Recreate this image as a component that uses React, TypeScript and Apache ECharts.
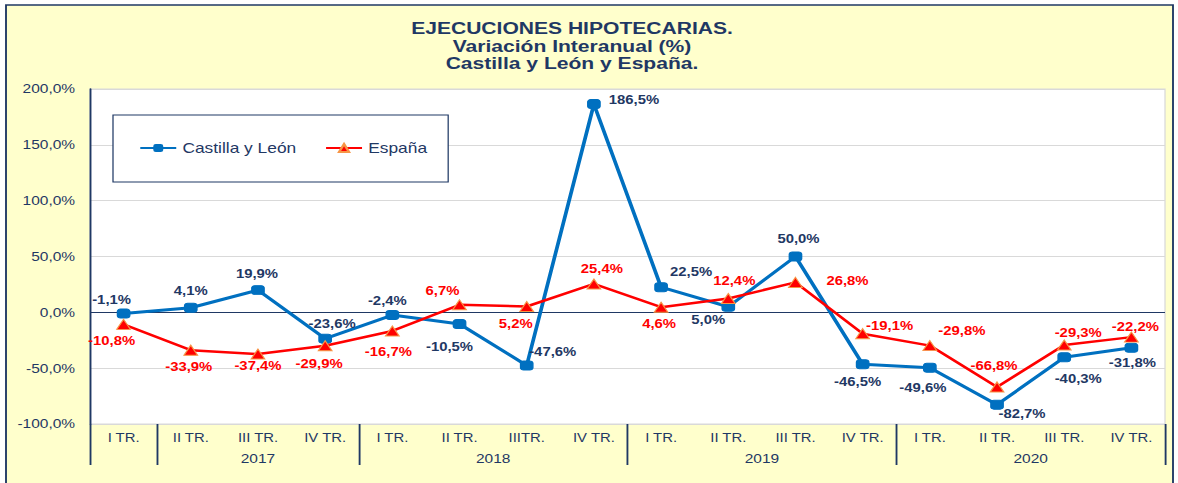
import React, { useEffect, useRef } from "react";
import * as echarts from "echarts";

// ---- Data ----
const categories = [
  "I TR.", "II TR.", "III TR.", "IV TR.",
  "I TR.", "II TR.", "IIITR.", "IV TR.",
  "I TR.", "II TR.", "III TR.", "IV TR.",
  "I TR.", "II TR.", "III TR.", "IV TR.",
];
const yearNames = ["", "2017", "2018", "2019", "2020"];
const yearStarts = [0, 1, 4, 8, 12];

const castillaLeon = [-1.1, 4.1, 19.9, -23.6, -2.4, -10.5, -47.6, 186.5, 22.5, 5.0, 50.0, -46.5, -49.6, -82.7, -40.3, -31.8];
const espana = [-10.8, -33.9, -37.4, -29.9, -16.7, 6.7, 5.2, 25.4, 4.6, 12.4, 26.8, -19.1, -29.8, -66.8, -29.3, -22.2];

const yMin = -100;
const yMax = 200;
const yInterval = 50;

// ---- Label placement (pixels, relative to the point) ----
const cylLabelOffsets = [
  [-12, -14], [0, -17], [-1, -16], [7, -15], [-5, -14], [-10, 23], [26, -13], [40, -4],
  [30, -15], [-20, 13], [3, -17], [-5, 18], [-7, 20], [25, 9], [14, 22], [1, 15],
];
const espLabelOffsets = [
  [-12, 17], [-2, 17], [0, 12], [-6, 18], [-4, 21], [-17, -14], [-11, 17], [8, -15],
  [-2, 17], [6, -17], [52, -1], [27, -8], [32, -15], [-3, -21], [14, -12], [4, -10],
];

const SX = 1.24; // horizontal stretch of the original picture
const W = 1178;
const H = 483;
const W0 = W / SX;
const NAVY = "#1F3864";
const BLUE = "#0070C0";
const RED = "#FF0000";
const FONT = "'Liberation Sans', Arial, sans-serif";

const fmt = (v: number) => v.toFixed(1).replace(".", ",") + "%";

export default function App() {
  const ref = useRef<HTMLDivElement>(null);

  useEffect(() => {
    if (!ref.current) return;
    const chart = echarts.init(ref.current, undefined, { renderer: "svg" });

    const n = categories.length;
    const boundaries = [...yearStarts, n];
    const centers = yearStarts.map((s, i) => (s + boundaries[i + 1]) / 2);
    const centerName = (v: number) => {
      const idx = centers.findIndex((c) => Math.abs(c - v) < 1e-6);
      return idx >= 0 ? yearNames[idx] : "";
    };

    const gridColors = [] as string[];
    for (let v = yMin; v <= yMax; v += yInterval) gridColors.push(v === 0 ? NAVY : "#D9D9D9");

    const titleStyle = (text: string) => ({
      text,
      textAlign: "center",
      textVerticalAlign: "middle",
      font: `bold 17px ${FONT}`,
      fill: NAVY,
    });

    const option: any = {
      animation: false,
      textStyle: { fontFamily: FONT },
      graphic: [
        {
          type: "rect",
          z: -100,
          shape: { x: 6 / SX, y: 5, width: (1173 - 6) / SX, height: 520 },
          style: { fill: "#FFFFCC", stroke: NAVY, lineWidth: 1.5 },
          silent: true,
        },
        { type: "text", x: 572 / SX, y: 28, style: titleStyle("EJECUCIONES HIPOTECARIAS.") },
        { type: "text", x: 572 / SX, y: 46, style: titleStyle("Variación Interanual (%)") },
        { type: "text", x: 572 / SX, y: 63, style: titleStyle("Castilla y León y España.") },
      ],
      legend: {
        data: ["Castilla y León", "España"],
        left: 113 / SX,
        top: 115,
        orient: "horizontal",
        padding: [26, 17, 27, 21],
        itemWidth: 29,
        itemHeight: 10,
        itemGap: 23,
        backgroundColor: "#FFFFFF",
        borderColor: NAVY,
        borderWidth: 1,
        textStyle: { fontSize: 14, color: NAVY, fontFamily: FONT },
      },
      grid: {
        left: 90 / SX,
        right: W0 - 1165 / SX,
        top: 89,
        bottom: H - 424,
        show: true,
        backgroundColor: "#FFFFFF",
        borderColor: "#D9D9D9",
        borderWidth: 1,
      },
      xAxis: [
        {
          type: "category",
          data: categories,
          boundaryGap: true,
          axisLine: { show: false },
          axisTick: { show: false },
          splitLine: { show: false },
          axisLabel: { interval: 0, color: NAVY, fontSize: 12, margin: 8, fontFamily: FONT },
        },
        {
          type: "value",
          position: "bottom",
          min: 0,
          max: n,
          axisLine: { show: false },
          splitLine: { show: false },
          axisTick: { show: true, customValues: boundaries, length: 41, lineStyle: { color: NAVY, width: 1.5 } },
          axisLabel: { customValues: centers, formatter: (v: number) => centerName(v), margin: 28, color: NAVY, fontSize: 12.5, fontFamily: FONT },
        },
      ],
      yAxis: {
        type: "value",
        min: yMin,
        max: yMax,
        interval: yInterval,
        axisLine: { show: true, lineStyle: { color: NAVY, width: 1.5 } },
        axisTick: { show: false },
        axisLabel: { formatter: (v: number) => fmt(v), color: NAVY, fontSize: 12.5, margin: 12, fontFamily: FONT },
        splitLine: { show: true, lineStyle: { color: gridColors, width: 1 } },
      },
      series: [
        {
          name: "Castilla y León",
          type: "line",
          xAxisIndex: 0,
          data: castillaLeon.map((v, i) => ({
            value: v,
            label: { offset: [cylLabelOffsets[i][0] / SX, cylLabelOffsets[i][1]] },
          })),
          symbol: "roundRect",
          symbolSize: [10, 9],
          lineStyle: { color: BLUE, width: 3 },
          itemStyle: { color: BLUE, borderColor: BLUE },
          z: 3,
          label: {
            show: true,
            position: "inside",
            formatter: (p: any) => fmt(p.value),
            color: NAVY,
            fontWeight: "bold",
            fontSize: 12,
            fontFamily: FONT,
          },
        },
        {
          name: "España",
          type: "line",
          xAxisIndex: 0,
          data: espana.map((v, i) => ({
            value: v,
            label: { offset: [espLabelOffsets[i][0] / SX, espLabelOffsets[i][1]] },
          })),
          symbol: "triangle",
          symbolSize: [11, 10],
          lineStyle: { color: RED, width: 2.5 },
          itemStyle: { color: RED, borderColor: "#F79646", borderWidth: 1 },
          z: 4,
          label: {
            show: true,
            position: "inside",
            formatter: (p: any) => fmt(p.value),
            color: RED,
            fontWeight: "bold",
            fontSize: 12,
            fontFamily: FONT,
          },
        },
      ],
    };

    chart.setOption(option);
    return () => chart.dispose();
  }, []);

  return (
    <div style={{ position: "absolute", left: 0, top: 0, width: W, height: H, overflow: "hidden", background: "#FFFFFF" }}>
      <div
        ref={ref}
        style={{ width: W0, height: H, transform: `scaleX(${SX})`, transformOrigin: "0 0" }}
      />
    </div>
  );
}
